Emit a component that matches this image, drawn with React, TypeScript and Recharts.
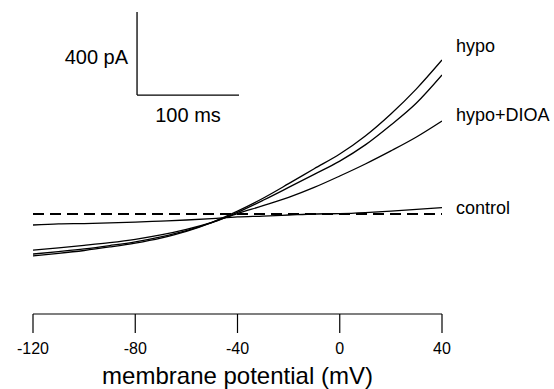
import React from 'react';
import { LineChart, Line, XAxis, YAxis, ReferenceLine } from 'recharts';

const voltages = [-120, -110, -100, -90, -80, -70, -60, -50, -40, -30, -20, -10, 0, 10, 20, 30, 40];
const controlCurrent = [-53, -48, -46, -43, -39, -34, -29, -22, -14, -10, -5, 0, 2, 7, 14, 22, 31];
const hypoCurrent = [-202, -190, -176, -159, -140, -116, -84, -40, 14, 76, 146, 218, 289, 376, 482, 603, 742];
const hypo2Current = [-193, -181, -168, -152, -134, -110, -80, -42, 8, 66, 128, 191, 255, 333, 429, 535, 670];
const dioaCurrent = [-174, -163, -151, -138, -122, -101, -74, -40, 2, 40, 80, 128, 183, 241, 304, 371, 448];
const xTicks = [-120, -80, -40, 0, 40];

const data = voltages.map((v, i) => ({
  v,
  control: controlCurrent[i],
  hypo: hypoCurrent[i],
  hypo2: hypo2Current[i],
  dioa: dioaCurrent[i],
}));

const font = '"Liberation Sans", Arial, Helvetica, sans-serif';

export default function App() {
  const labelStyle: React.CSSProperties = {
    position: 'absolute',
    left: 456,
    fontSize: 18,
    lineHeight: '20px',
    color: '#000',
    whiteSpace: 'nowrap',
  };
  return (
    <div style={{ position: 'absolute', left: 0, top: 0, width: 554, height: 389, fontFamily: font, background: '#fff' }}>
      <LineChart width={554} height={389} data={data} margin={{ top: 10, right: 112, left: 33, bottom: 0 }}>
        <XAxis
          dataKey="v"
          type="number"
          domain={[-120, 40]}
          ticks={xTicks}
          allowDataOverflow
          height={75}
          tickSize={19}
          tickMargin={10}
          axisLine={{ stroke: '#000', strokeWidth: 1.2 }}
          tickLine={{ stroke: '#000', strokeWidth: 1.2 }}
          tick={{ fill: '#000', fontSize: 16 }}
          label={{ value: 'membrane potential (mV)', position: 'insideBottom', offset: 5, fontSize: 24, fill: '#000' }}
        />
        <YAxis hide type="number" domain={[-482, 983]} allowDataOverflow />
        <ReferenceLine y={0} stroke="#000" strokeWidth={2} strokeDasharray="11 6" />
        <ReferenceLine
          segment={[{ x: -79.3, y: 573 }, { x: -79.3, y: 973 }]}
          stroke="#000"
          strokeWidth={1.3}
          label={{ value: '400 pA', position: 'left', offset: 9, fontSize: 20, fill: '#000', dy: 3 }}
        />
        <ReferenceLine
          segment={[{ x: -79.3, y: 573 }, { x: -39.4, y: 573 }]}
          stroke="#000"
          strokeWidth={1.3}
          label={{ value: '100 ms', position: 'bottom', offset: 13, fontSize: 20, fill: '#000' }}
        />
        <Line type="monotone" dataKey="control" stroke="#000" strokeWidth={1.3} dot={false} isAnimationActive={false} />
        <Line type="monotone" dataKey="dioa" stroke="#000" strokeWidth={1.3} dot={false} isAnimationActive={false} />
        <Line type="monotone" dataKey="hypo2" stroke="#000" strokeWidth={1.3} dot={false} isAnimationActive={false} />
        <Line type="monotone" dataKey="hypo" stroke="#000" strokeWidth={1.3} dot={false} isAnimationActive={false} />
      </LineChart>
      <div style={{ ...labelStyle, top: 36 }}>hypo</div>
      <div style={{ ...labelStyle, top: 105 }}>hypo+DIOA</div>
      <div style={{ ...labelStyle, top: 198 }}>control</div>
    </div>
  );
}
